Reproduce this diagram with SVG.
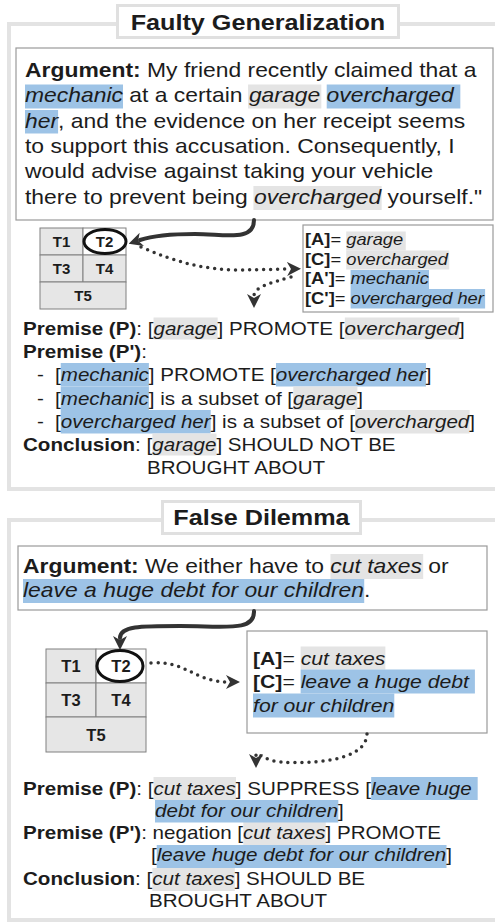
<svg xmlns="http://www.w3.org/2000/svg" width="495" height="924" viewBox="0 0 495 924">
<defs>
<style>
.frame{fill:none;stroke:#e3e3e3;stroke-width:4}
.ttlbox{fill:#fff;stroke:#e0e0e0;stroke-width:3}
.box{fill:#fff;stroke:#9a9a9a;stroke-width:1.2}
.t{font-family:"Liberation Sans",Arial,Helvetica,sans-serif;fill:#1c1c1c}
.b{font-weight:bold}
.i{font-style:italic}
.hb{fill:#9dc3e6}
.hg{fill:#e4e4e4}
.cell{fill:#e6e6e6;stroke:#808080;stroke-width:1}
.cellw{fill:#fff;stroke:#808080;stroke-width:1}
.ell{fill:none;stroke:#111;stroke-width:3}
.solid{fill:none;stroke:#333;stroke-width:4;stroke-linecap:round}
.dot{fill:none;stroke:#333;stroke-width:3.5;stroke-linecap:round;stroke-dasharray:0 7}
</style>
<marker id="ah" markerUnits="userSpaceOnUse" viewBox="0 0 14 14" markerWidth="14" markerHeight="14" refX="2" refY="7" orient="auto">
<path d="M0,0 L14,7 L0,14 L4,7 z" fill="#333"/>
</marker>
</defs>
<rect width="495" height="924" fill="#fff"/>

<!-- ================= Section 1 ================= -->
<g id="frame1"><rect class="frame" x="9" y="24" width="500" height="465"/></g>
<g id="title1">
<rect class="ttlbox" x="117.5" y="5.5" width="281" height="32"/>
<g transform="translate(258,0) scale(1.145,1)"><text class="t b" x="0" y="30" font-size="22" text-anchor="middle">Faulty Generalization</text></g>
</g>

<g id="argument1">
<rect class="box" x="16" y="48" width="477" height="172"/>
<g transform="translate(25,0) scale(1.145,1)" font-size="20">
<rect class="hb" x="0" y="84.5" width="85.6" height="24"/>
<rect class="hg" x="194.8" y="84.5" width="64" height="24"/>
<rect class="hb" x="263.5" y="84.5" width="116.7" height="24"/>
<rect class="hb" x="0" y="110" width="28.9" height="23.5"/>
<rect class="hg" x="199.5" y="186" width="112" height="24"/>
<text class="t" x="0" y="77"><tspan class="b">Argument:</tspan> My friend recently claimed that a</text>
<text class="t" x="0" y="102.5"><tspan class="i">mechanic</tspan> at a certain <tspan class="i">garage</tspan> <tspan class="i">overcharged</tspan></text>
<text class="t" x="0" y="128"><tspan class="i">her</tspan>, and the evidence on her receipt seems</text>
<text class="t" x="0" y="153">to support this accusation. Consequently, I</text>
<text class="t" x="0" y="178.5">would advise against taking your vehicle</text>
<text class="t" x="0" y="204">there to prevent being <tspan class="i">overcharged</tspan> yourself."</text>
</g>
</g>

<g id="table1">
<rect class="cell" x="40" y="228" width="43" height="27"/>
<rect class="cellw" x="83" y="228" width="43" height="27"/>
<rect class="cell" x="40" y="255" width="43" height="27"/>
<rect class="cell" x="83" y="255" width="43" height="27"/>
<rect class="cell" x="40" y="282" width="86" height="27"/>
<g class="t b" font-size="15" text-anchor="middle">
<text x="61.5" y="247">T1</text>
<text x="104.5" y="247">T2</text>
<text x="61.5" y="274">T3</text>
<text x="104.5" y="274">T4</text>
<text x="83" y="301">T5</text>
</g>
<ellipse class="ell" cx="105" cy="241.5" rx="21" ry="12"/>
</g>

<g id="mapping1">
<rect class="box" x="303" y="225" width="190" height="87"/>
<g transform="translate(305,0) scale(1.145,1)" font-size="16">
<rect class="hg" x="36" y="231.5" width="52" height="19"/>
<rect class="hg" x="36" y="250.5" width="90" height="19"/>
<rect class="hb" x="39.8" y="270" width="68.5" height="19"/>
<rect class="hb" x="39.8" y="289" width="117.5" height="19.5"/>
<text class="t" x="0" y="245"><tspan class="b">[A]</tspan>= <tspan class="i">garage</tspan></text>
<text class="t" x="0" y="265"><tspan class="b">[C]</tspan>= <tspan class="i">overcharged</tspan></text>
<text class="t" x="0" y="284.5"><tspan class="b">[A']</tspan>= <tspan class="i">mechanic</tspan></text>
<text class="t" x="0" y="304"><tspan class="b">[C']</tspan>= <tspan class="i">overcharged her</tspan></text>
</g>
</g>

<g id="premises1" font-size="18">
<g transform="translate(23,0) scale(1.145,1)">
<rect class="hg" x="114" y="317.5" width="56" height="22"/>
<rect class="hg" x="281.1" y="317.5" width="100" height="22"/>
<text class="t" x="0" y="335"><tspan class="b">Premise (P)</tspan>: [<tspan class="i">garage</tspan>] PROMOTE [<tspan class="i">overcharged</tspan>]</text>
<text class="t" x="0" y="358"><tspan class="b">Premise (P')</tspan>:</text>
</g>
<g transform="translate(37,0) scale(1.145,1)">
<text class="t" x="0" y="381.5">-</text>
<text class="t" x="0" y="405">-</text>
<text class="t" x="0" y="428.5">-</text>
</g>
<g transform="translate(55,0) scale(1.145,1)">
<rect class="hb" x="5" y="363" width="77" height="23.5"/>
<rect class="hb" x="193" y="363" width="131" height="23.5"/>
<rect class="hb" x="5" y="386.5" width="77" height="23.5"/>
<rect class="hg" x="208.1" y="386.5" width="56" height="23.5"/>
<rect class="hb" x="5" y="410" width="131" height="23.5"/>
<rect class="hg" x="262.1" y="410" width="100" height="23.5"/>
<text class="t" x="0" y="381.5">[<tspan class="i">mechanic</tspan>] PROMOTE [<tspan class="i">overcharged her</tspan>]</text>
<text class="t" x="0" y="405">[<tspan class="i">mechanic</tspan>] is a subset of [<tspan class="i">garage</tspan>]</text>
<text class="t" x="0" y="428.5">[<tspan class="i">overcharged her</tspan>] is a subset of [<tspan class="i">overcharged</tspan>]</text>
</g>
<g transform="translate(23,0) scale(1.145,1)">
<rect class="hg" x="113" y="433.5" width="56" height="22"/>
<text class="t" x="0" y="451"><tspan class="b">Conclusion</tspan>: [<tspan class="i">garage</tspan>] SHOULD NOT BE</text>
</g>
<g transform="translate(147,0) scale(1.145,1)">
<text class="t" x="0" y="474">BROUGHT ABOUT</text>
</g>
</g>

<!-- ================= Section 2 ================= -->
<g id="frame2"><rect class="frame" x="9" y="520" width="500" height="400"/></g>
<g id="title2">
<rect class="ttlbox" x="162.5" y="501.5" width="198" height="32"/>
<g transform="translate(261.5,0) scale(1.145,1)"><text class="t b" x="0" y="525" font-size="22" text-anchor="middle">False Dilemma</text></g>
</g>

<g id="argument2">
<rect class="box" x="18" y="546" width="469" height="64"/>
<g transform="translate(23,0) scale(1.145,1)" font-size="20">
<rect class="hg" x="268.5" y="554" width="81" height="25"/>
<rect class="hb" x="0" y="579" width="298" height="24"/>
<text class="t" x="0" y="573"><tspan class="b">Argument:</tspan> We either have to <tspan class="i">cut taxes</tspan> or</text>
<text class="t" x="0" y="597"><tspan class="i">leave a huge debt for our children</tspan>.</text>
</g>
</g>

<g id="table2">
<rect class="cell" x="46" y="649" width="50" height="34"/>
<rect class="cellw" x="96" y="649" width="50" height="34"/>
<rect class="cell" x="46" y="683" width="50" height="34"/>
<rect class="cell" x="96" y="683" width="50" height="34"/>
<rect class="cell" x="46" y="717" width="100" height="35"/>
<g class="t b" font-size="16.5" text-anchor="middle">
<text x="71" y="672">T1</text>
<text x="121" y="672">T2</text>
<text x="71" y="706">T3</text>
<text x="121" y="706">T4</text>
<text x="96" y="740.5">T5</text>
</g>
<ellipse class="ell" cx="120" cy="666" rx="23" ry="15.5"/>
</g>

<g id="mapping2">
<rect class="box" x="247" y="631" width="240" height="102"/>
<g transform="translate(253,0) scale(1.145,1)" font-size="18.5">
<rect class="hg" x="41.6" y="646.5" width="74" height="23"/>
<rect class="hb" x="41.6" y="669.5" width="152.2" height="24"/>
<rect class="hb" x="0" y="693.5" width="123.4" height="24"/>
<text class="t" x="0" y="665"><tspan class="b">[A]</tspan>= <tspan class="i">cut taxes</tspan></text>
<text class="t" x="0" y="688.5"><tspan class="b">[C]</tspan>= <tspan class="i">leave a huge debt</tspan></text>
<text class="t" x="0" y="712"><tspan class="i">for our children</tspan></text>
</g>
</g>

<g id="premises2" font-size="18">
<g transform="translate(23,0) scale(1.145,1)">
<rect class="hg" x="114" y="777" width="72" height="23"/>
<rect class="hb" x="304.1" y="777" width="93" height="23"/>
<rect class="hg" x="192.4" y="822" width="72" height="23"/>
<rect class="hg" x="113" y="868" width="72" height="23"/>
<text class="t" x="0" y="795"><tspan class="b">Premise (P)</tspan>: [<tspan class="i">cut taxes</tspan>] SUPPRESS [<tspan class="i">leave huge</tspan></text>
<text class="t" x="0" y="839"><tspan class="b">Premise (P')</tspan>: negation [<tspan class="i">cut taxes</tspan>] PROMOTE</text>
<text class="t" x="0" y="885"><tspan class="b">Conclusion</tspan>: [<tspan class="i">cut taxes</tspan>] SHOULD BE</text>
</g>
<g transform="translate(155,0) scale(1.145,1)">
<rect class="hb" x="0" y="800" width="160.1" height="22.5"/>
<text class="t" x="0" y="817"><tspan class="i">debt for our children</tspan>]</text>
</g>
<g transform="translate(151,0) scale(1.145,1)">
<rect class="hb" x="5" y="845" width="253.1" height="23"/>
<text class="t" x="0" y="861">[<tspan class="i">leave huge debt for our children</tspan>]</text>
</g>
<g transform="translate(149,0) scale(1.145,1)">
<text class="t" x="0" y="907">BROUGHT ABOUT</text>
</g>
</g>

<!-- ================= Connectors ================= -->
<g id="connectors">
<path class="solid" d="M254,220 C254,242 225,234 195,234 C168,234 152,236 140,240" marker-end="url(#ah)"/>
<path class="dot" d="M141,247 C175,262 205,270 240,270 L289,269" marker-end="url(#ah)"/>
<path class="dot" d="M291,277 C270,283 254,287 254,296" marker-end="url(#ah)"/>
<path class="solid" d="M254,611 C255,632 225,626 180,626 C140,626 120,626 120,638" marker-end="url(#ah)"/>
<path class="dot" d="M151,663 C185,660 195,682 228,682" marker-end="url(#ah)"/>
<path class="dot" d="M367,734 C366,762 310,764 280,762 C266,761 257,752 256,754 L256,756" marker-end="url(#ah)"/>
</g>
</svg>
